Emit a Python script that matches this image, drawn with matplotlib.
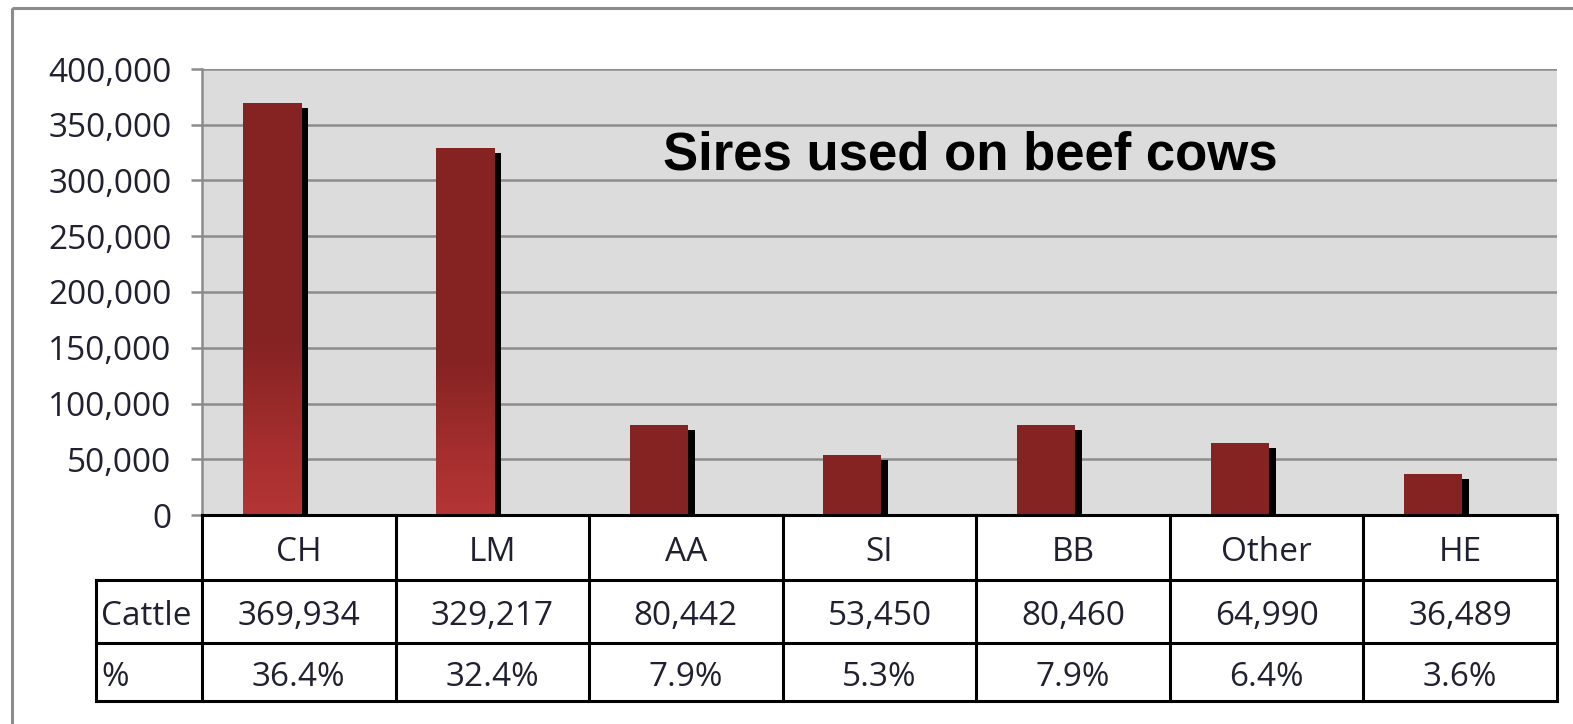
import numpy as np
import matplotlib.pyplot as plt
from matplotlib.colors import LinearSegmentedColormap
from matplotlib.patches import Rectangle

# Data
breeds = ["CH", "LM", "AA", "SI", "BB", "Other", "HE"]
cattle = [369934, 329217, 80442, 53450, 80460, 64990, 36489]
percent = ["36.4%", "32.4%", "7.9%", "5.3%", "7.9%", "6.4%", "3.6%"]
yticks = [0, 50000, 100000, 150000, 200000, 250000, 300000, 350000, 400000]

W, H = 1573, 724
fig = plt.figure(figsize=(W / 100, H / 100), dpi=100)
fig.patch.set_facecolor("white")

# plot area in pixels
left, top, right, base = 202, 69, 1557, 515
ax = fig.add_axes([left / W, (H - base) / H, (right - left) / W, (base - top) / H])
ax.set_facecolor("#dcdcdc")
ax.set_xlim(-0.5, len(breeds) - 0.5)
ax.set_ylim(0, 400000)

grid_col = "#8c8c8c"
ax.set_yticks(yticks)
ax.set_yticklabels([f"{v:,}" for v in yticks], fontsize=24, family="Open Sans", color="#202030")
ax.yaxis.grid(True, color=grid_col, linewidth=1.8)
ax.set_axisbelow(True)
ax.tick_params(axis="y", length=8, width=1.8, color=grid_col, pad=14)
ax.set_xticks([])
for s in ["top", "right", "bottom"]:
    ax.spines[s].set_visible(False)
ax.spines["left"].set_color(grid_col)
ax.spines["left"].set_linewidth(1.8)

# bars with a small black shadow
x = np.arange(len(breeds))
bar_x = x - 0.14
width = 0.30
px_x = 1.0 / ((right - left) / len(breeds))
px_y = 400000 / (base - top)
shadow_h = [max(v - 5 * px_y, 0) for v in cattle]
ax.bar(bar_x + 7 * px_x, shadow_h, width=width, color="black", zorder=2)
bars = ax.bar(bar_x, cattle, width=width, color="#852323", zorder=3)

# lighter gradient at the bottom of the tall bars
cmap = LinearSegmentedColormap.from_list(
    "bar", [(0.0, "#b43535"), (0.15, "#a82f2f"), (0.42, "#852323"), (1.0, "#852323")])
grad = np.linspace(0, 1, 256).reshape(-1, 1)
for b, v in zip(bars, cattle):
    if v > 150000:
        x0 = b.get_x()
        im = ax.imshow(grad, cmap=cmap, aspect="auto", origin="lower",
                       extent=[x0, x0 + b.get_width(), 0, v], zorder=3.5)
        im.set_clip_path(b)
ax.set_xlim(-0.5, len(breeds) - 0.5)
ax.set_ylim(0, 400000)

ax.text(3.47, 322000, "Sires used on beef cows", fontsize=38, fontweight="bold",
        family="Liberation Sans", ha="center", va="center", color="black", zorder=5)

# overlay in pixel coordinates for the data table and border
ov = fig.add_axes([0, 0, 1, 1], zorder=10)
ov.set_xlim(0, W)
ov.set_ylim(H, 0)
ov.axis("off")
ov.patch.set_alpha(0)

ov.add_patch(Rectangle((12, 8), W + 20, H + 20, fill=False, edgecolor=grid_col, linewidth=2.2))

row_y = [base, 580, 643, 701]
col_w = (right - left) / len(breeds)
tbl_left = 96
lw = 2.2
ov.plot([left, right], [row_y[0], row_y[0]], color="black", lw=lw)
for yy in row_y[1:]:
    ov.plot([tbl_left, right], [yy, yy], color="black", lw=lw)
ov.plot([tbl_left, tbl_left], [row_y[1], row_y[3]], color="black", lw=lw)
for i in range(len(breeds) + 1):
    xx = left + i * col_w
    ov.plot([xx, xx], [row_y[0], row_y[3]], color="black", lw=lw)

txt = dict(fontsize=24, family="Open Sans", color="#202030", va="center")
dy = 5
for i, (b, c, p) in enumerate(zip(breeds, cattle, percent)):
    cx = left + (i + 0.5) * col_w
    ov.text(cx, (row_y[0] + row_y[1]) / 2 + dy, b, ha="center", **txt)
    ov.text(cx, (row_y[1] + row_y[2]) / 2 + dy, f"{c:,}", ha="center", **txt)
    ov.text(cx, (row_y[2] + row_y[3]) / 2 + dy, p, ha="center", **txt)
ov.text(tbl_left + 5, (row_y[1] + row_y[2]) / 2 + dy, "Cattle", ha="left", **txt)
ov.text(tbl_left + 5, (row_y[2] + row_y[3]) / 2 + dy, "%", ha="left", **txt)

fig.savefig("out.png", dpi=100)
